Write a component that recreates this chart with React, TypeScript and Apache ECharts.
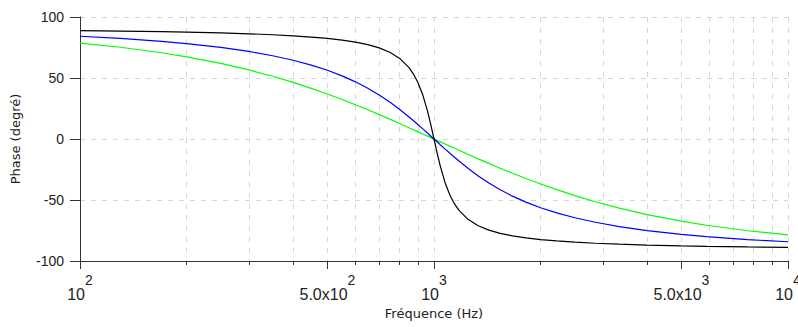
import { useEffect, useRef } from 'react';
import * as echarts from 'echarts';

const frequencies = [
  100, 130, 170, 200, 250, 300, 350, 400, 450, 500, 550, 600, 650, 700, 750, 800, 850, 875, 900, 930, 960, 980, 1000,
  1020.4, 1041.7, 1075.3, 1111.1, 1142.9, 1176.5, 1250, 1333.3, 1428.6, 1538.5, 1666.7, 1818.2, 2000, 2222.2, 2500,
  2857.1, 3333.3, 4000, 5000, 5882.4, 7692.3, 10000,
];

const phaseBlack = [
  88.84, 88.48, 88.0, 87.61, 86.95, 86.23, 85.44, 84.56, 83.56, 82.41, 81.04, 79.38, 77.31, 74.65, 71.08, 66.04, 58.51,
  53.25, 46.55, 36.0, 22.21, 11.42, 0,
  -11.42, -22.21, -36.0, -46.55, -53.25, -58.51, -66.04, -71.08, -74.65, -77.31, -79.38, -81.04, -82.41, -83.56, -84.56,
  -85.44, -86.23, -86.95, -87.61, -88.0, -88.48, -88.84,
];

const phaseBlue = [
  84.23, 82.47, 80.07, 78.23, 75.07, 71.75, 68.25, 64.54, 60.56, 56.31, 51.74, 46.86, 41.61, 36.08, 30.26, 24.23, 18.08,
  15.0, 11.92, 8.27, 4.67, 2.31, 0,
  -2.31, -4.67, -8.27, -11.92, -15.0, -18.08, -24.23, -30.26, -36.08, -41.61, -46.86, -51.74, -56.31, -60.56, -64.54,
  -68.25, -71.75, -75.07, -78.23, -80.07, -82.47, -84.23,
];

const phaseGreen = [
  78.58, 75.19, 70.7, 67.38, 61.93, 56.6, 51.42, 46.4, 41.54, 36.87, 32.37, 28.07, 23.94, 20.02, 16.26, 12.68, 9.27,
  7.63, 6.03, 4.15, 2.34, 1.16, 0,
  -1.16, -2.34, -4.15, -6.03, -7.63, -9.27, -12.68, -16.26, -20.02, -23.94, -28.07, -32.37, -36.87, -41.54, -46.4,
  -51.42, -56.6, -61.93, -67.38, -70.7, -75.19, -78.58,
];

const xMajorTicks = [100, 500, 1000, 5000, 10000];
const xMajorLabels = ['10', '5.0x10', '10', '5.0x10', '10'];
const xMajorExponents = ['2', '2', '3', '3', '4'];
const xGridTicks = [200, 300, 400, 500, 600, 700, 800, 900, 1000, 2000, 3000, 4000, 5000, 6000, 7000, 8000, 9000, 10000];

const xAxisName = 'Fréquence (Hz)';
const yAxisName = 'Phase (degré)';

const pairs = (ys: number[]) => frequencies.map((f, i) => [f, ys[i]]);

export default function App() {
  const ref = useRef<HTMLDivElement>(null);

  useEffect(() => {
    if (!ref.current) return;
    const chart = echarts.init(ref.current, undefined, { renderer: 'svg' });
    const axisColor = '#333333';
    const gridColor = '#d6d6d6';
    const font = 'Liberation Sans, Arial, sans-serif';

    chart.setOption({
      animation: false,
      backgroundColor: '#ffffff',
      grid: { left: 80, right: 10, top: 17, bottom: 66, containLabel: false, outerBoundsMode: 'none' },
      xAxis: [
        {
          type: 'log',
          logBase: 10,
          min: 100,
          max: 10000,
          position: 'bottom',
          name: xAxisName,
          nameLocation: 'middle',
          nameGap: 44,
          nameTextStyle: { fontFamily: 'DejaVu Sans, sans-serif', fontSize: 13, color: '#222' },
          axisLine: { show: true, onZero: false, lineStyle: { color: axisColor, width: 1 } },
          axisTick: { show: true, inside: false, length: 4, customValues: xGridTicks, lineStyle: { color: axisColor } },
          minorTick: { show: false },
          axisLabel: {
            show: true,
            customValues: xMajorTicks,
            margin: 25,
            hideOverlap: false,
            formatter: (value: number) => {
              const i = xMajorTicks.findIndex((v) => Math.abs(v - value) < v * 1e-3);
              if (i < 0) return '';
              return `{b|${xMajorLabels[i]}}{s|${xMajorExponents[i]}}`;
            },
            rich: {
              b: { fontFamily: font, fontSize: 16, lineHeight: 16, color: '#222', verticalAlign: 'bottom' },
              s: { fontFamily: font, fontSize: 14, lineHeight: 14, color: '#222', verticalAlign: 'bottom', padding: [0, 0, 15, 0] },
            },
          },
          splitLine: { show: true, lineStyle: { color: gridColor, type: [5, 6], width: 1 } },
        },
        {
          type: 'log',
          logBase: 10,
          min: 100,
          max: 10000,
          position: 'bottom',
          axisLine: { show: false, onZero: false },
          axisTick: { show: true, inside: false, length: 8, customValues: xMajorTicks, lineStyle: { color: axisColor } },
          axisLabel: { show: false },
          splitLine: { show: false },
        },
      ],
      yAxis: {
        type: 'value',
        min: -100,
        max: 100,
        interval: 50,
        name: yAxisName,
        nameLocation: 'middle',
        nameRotate: 90,
        nameGap: 58,
        nameTextStyle: { fontFamily: 'DejaVu Sans, sans-serif', fontSize: 13, color: '#222' },
        axisLine: { show: true, lineStyle: { color: axisColor, width: 1 } },
        axisTick: { show: true, inside: false, length: 10, lineStyle: { color: axisColor } },
        axisLabel: { fontFamily: font, fontSize: 14, color: '#222', margin: 16 },
        splitLine: {
          show: true,
          lineStyle: { color: ['rgba(0,0,0,0)', gridColor, gridColor, gridColor, gridColor], type: [5, 6], width: 1 },
        },
      },
      series: [
        { type: 'line', data: pairs(phaseGreen), showSymbol: false, lineStyle: { color: '#00ff00', width: 1.2 }, itemStyle: { color: '#00ff00' } },
        { type: 'line', data: pairs(phaseBlue), showSymbol: false, lineStyle: { color: '#0000ff', width: 1.2 }, itemStyle: { color: '#0000ff' } },
        { type: 'line', data: pairs(phaseBlack), showSymbol: false, lineStyle: { color: '#000000', width: 1.2 }, itemStyle: { color: '#000000' } },
      ],
    });
    return () => chart.dispose();
  }, []);

  return <div ref={ref} style={{ position: 'absolute', left: 0, top: 0, width: 798, height: 327 }} />;
}
